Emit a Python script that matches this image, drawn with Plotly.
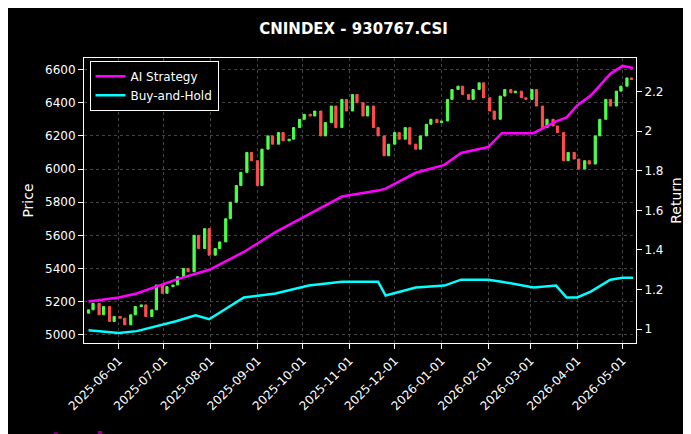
import plotly.graph_objects as go
import pandas as pd

# twice-weekly closes (Mon, Thu)
closes = [
    5150, 5190, 5120, 5170, 5080, 5110, 5100, 5060, 5120, 5170,
    5180, 5110, 5150, 5300, 5250, 5290, 5300, 5350, 5400, 5380,
    5600, 5520, 5640, 5480, 5520, 5560, 5700, 5800, 5900, 5980,
    6100, 6050, 5900, 6120, 6200, 6150, 6220, 6170, 6180, 6250,
    6300, 6330, 6320, 6350, 6200, 6280, 6380, 6250, 6420, 6350,
    6450, 6400, 6320, 6380, 6250, 6200, 6080, 6150, 6220, 6180,
    6250, 6150, 6120, 6200, 6270, 6300, 6280, 6290, 6420, 6480,
    6500, 6450, 6420, 6480, 6520, 6430, 6350, 6300, 6440, 6480,
    6460, 6470, 6430, 6420, 6480, 6380, 6250, 6300, 6260, 6220,
    6050, 6100, 6060, 6000, 6050, 6030, 6200, 6300, 6420, 6380,
    6470, 6500, 6550, 6540,
]
mondays = pd.date_range("2025-05-12", periods=len(closes) // 2, freq="7D")
dates = []
for m in mondays:
    dates += [m, m + pd.Timedelta(days=3)]
opens = [5130] + closes[:-1]
highs = [max(o, c) for o, c in zip(opens, closes)]
lows = [min(o, c) for o, c in zip(opens, closes)]

line_dates = ["2025-05-12", "2025-06-01", "2025-06-13", "2025-06-24", "2025-07-09",
              "2025-07-22", "2025-07-31", "2025-08-23", "2025-09-13", "2025-10-05",
              "2025-10-27", "2025-11-20", "2025-11-25", "2025-12-15", "2026-01-03",
              "2026-01-14", "2026-02-01", "2026-02-10", "2026-03-03", "2026-03-18",
              "2026-03-25", "2026-04-01", "2026-04-10", "2026-04-23", "2026-05-01",
              "2026-05-08"]
ai_strategy = [1.14, 1.16, 1.18, 1.21, 1.25, 1.28, 1.30, 1.39, 1.49, 1.58,
               1.67, 1.70, 1.71, 1.79, 1.83, 1.89, 1.92, 1.99, 1.99, 2.05,
               2.07, 2.13, 2.18, 2.29, 2.33, 2.32]
buy_hold = [0.995, 0.98, 0.99, 1.01, 1.04, 1.07, 1.05, 1.16, 1.18, 1.22,
            1.24, 1.24, 1.17, 1.21, 1.22, 1.25, 1.25, 1.24, 1.21, 1.22,
            1.16, 1.16, 1.19, 1.25, 1.26, 1.26]

fig = go.Figure()
fig.add_trace(go.Candlestick(
    x=dates, open=opens, high=highs, low=lows, close=closes,
    increasing=dict(line=dict(color="#4cff4c", width=1), fillcolor="#4cff4c"),
    decreasing=dict(line=dict(color="#ff4d4d", width=1), fillcolor="#ff4d4d"),
    showlegend=False, yaxis="y",
))
fig.add_trace(go.Scatter(x=line_dates, y=ai_strategy, name="AI Strategy", yaxis="y2",
                         mode="lines", line=dict(color="#ff00ff", width=2.5)))
fig.add_trace(go.Scatter(x=line_dates, y=buy_hold, name="Buy-and-Hold", yaxis="y2",
                         mode="lines", line=dict(color="#00ffff", width=2.5)))

grid = dict(showgrid=True, gridcolor="#444", griddash="dot", gridwidth=0.5,
            color="white", linecolor="white", mirror=True, ticks="outside",
            zeroline=False, automargin=False)
fig.update_layout(
    width=691, height=434, paper_bgcolor="black", plot_bgcolor="black",
    font=dict(family="DejaVu Sans", color="white", size=12),
    title=dict(text="<b>CNINDEX - 930767.CSI</b>", x=0.5, y=0.965, font=dict(size=15)),
    margin=dict(l=76, r=63, t=50, b=99),
    xaxis=dict(**grid, range=["2025-05-09", "2026-05-10"], dtick="M1",
               tick0="2025-06-01", tickformat="%Y-%m-%d", tickangle=-45,
               rangeslider=dict(visible=False)),
    yaxis=dict(**grid, title=dict(text="Price", standoff=8), range=[4950, 6670], dtick=200),
    yaxis2=dict(overlaying="y", side="right", title=dict(text="Return", standoff=8),
                range=[0.93, 2.37], dtick=0.2, showgrid=False, color="white",
                ticks="outside", zeroline=False, automargin=False),
    legend=dict(x=0.01, y=0.99, bgcolor="black", bordercolor="white", borderwidth=1,
                font=dict(size=12)),
    annotations=[dict(text="<b>uqtool.com</b>", xref="paper", yref="paper",
                      x=-0.125, y=-0.29, xanchor="left", yanchor="top",
                      showarrow=False, font=dict(size=24, color="#8b008b"))],
)
fig.write_html("out.html")
